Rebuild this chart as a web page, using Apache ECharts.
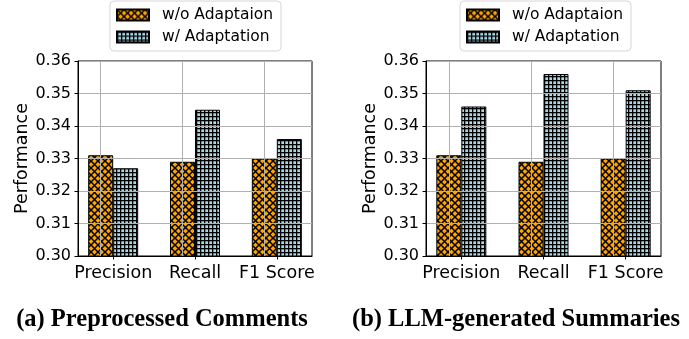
<!DOCTYPE html>
<html>
<head>
<meta charset="utf-8">
<script src="https://cdn.jsdelivr.net/npm/echarts@6/dist/echarts.min.js"></script>
<style>
html,body{margin:0;padding:0;background:#fff;}
#chart{width:689px;height:339px;}
</style>
</head>
<body>
<div id="chart"></div>
<script>
const categories = ['Precision', 'Recall', 'F1 Score'];
const categoryPositions = [0, 1, 2];
const seriesNames = ['w/o Adaptaion', 'w/ Adaptation'];
const leftWithout = [0.331, 0.329, 0.330];
const leftWith = [0.327, 0.345, 0.336];
const rightWithout = [0.331, 0.329, 0.330];
const rightWith = [0.346, 0.356, 0.351];
const captions = ['(a) Preprocessed Comments', '(b) LLM-generated Summaries'];

function makeCrossHatch() {
  const c = document.createElement('canvas');
  c.width = 7; c.height = 7;
  const g = c.getContext('2d');
  g.fillStyle = '#ffa500';
  g.fillRect(0, 0, 7, 7);
  g.strokeStyle = '#000';
  g.lineWidth = 1.5;
  g.beginPath();
  g.moveTo(-1, -1); g.lineTo(8, 8);
  g.moveTo(-1, 8); g.lineTo(8, -1);
  g.stroke();
  return c;
}
function makeGridHatch() {
  const c = document.createElement('canvas');
  c.width = 4; c.height = 4;
  const g = c.getContext('2d');
  g.fillStyle = '#add8e6';
  g.fillRect(0, 0, 4, 4);
  g.fillStyle = 'rgba(0,0,0,0.3)';
  g.fillRect(0, 1, 4, 1);
  g.fillRect(1, 0, 1, 4);
  g.fillStyle = '#000';
  g.fillRect(0, 0, 4, 1);
  g.fillRect(0, 0, 1, 4);
  return c;
}
const orangeFill = { image: makeCrossHatch(), repeat: 'repeat' };
const blueFill = { image: makeGridHatch(), repeat: 'repeat' };

const font = 'DejaVu Sans';
const grids = [
  { left: 78, width: 234, top: 61, height: 195 },
  { left: 426, width: 235, top: 61, height: 195 }
];

function xAxisFor(idx) {
  return {
    type: 'value', gridIndex: idx, min: -0.43, max: 2.43, z: 5,
    axisLine: { show: true, onZero: false, lineStyle: { color: '#000', width: 1 } },
    axisTick: { show: true, customValues: categoryPositions, length: 3.5, lineStyle: { color: '#000', width: 1 } },
    axisLabel: { customValues: categoryPositions, formatter: v => categories[Math.round(v)], color: '#000', fontFamily: font, fontSize: 17.5, margin: 8 },
    splitLine: { show: false }
  };
}
function yAxisFor(idx) {
  return {
    type: 'value', gridIndex: idx, min: 0.30, max: 0.36, interval: 0.01, z: 5,
    name: 'Performance', nameLocation: 'middle', nameGap: 47,
    nameTextStyle: { fontFamily: font, fontSize: 17.5, color: '#000' },
    axisLine: { show: true, onZero: false, lineStyle: { color: '#000', width: 1 } },
    axisTick: { show: true, length: 3.5, lineStyle: { color: '#000', width: 1 } },
    axisLabel: { formatter: v => v.toFixed(2), color: '#000', fontFamily: font, fontSize: 16, margin: 7 },
    splitLine: { show: true, lineStyle: { color: '#b0b0b0', width: 1 } }
  };
}
function barSeries(name, values, fill, idx, withGrid) {
  const s = {
    type: 'bar', name: name, xAxisIndex: idx, yAxisIndex: idx,
    data: values.map((v, i) => [categoryPositions[i], v]),
    barWidth: 25, barGap: '0%',
    itemStyle: { color: fill, borderColor: '#000', borderWidth: 1 }
  };
  if (withGrid) {
    s.markLine = {
      silent: true, symbol: 'none', animation: false,
      label: { show: false },
      lineStyle: { color: '#b0b0b0', width: 1, type: 'solid' },
      emphasis: { disabled: true },
      data: categoryPositions.map(p => ({ xAxis: p }))
    };
  }
  return s;
}
function legendFor(left) {
  return {
    orient: 'vertical', left: left, top: 1, icon: 'rect',
    itemWidth: 32, itemHeight: 11, itemGap: 6,
    padding: [6, 8, 6, 6],
    backgroundColor: '#fff', borderColor: '#d6d6d6', borderWidth: 1, borderRadius: 4,
    textStyle: { fontFamily: font, fontSize: 15.5, color: '#000', padding: [0, 0, 0, 8] },
    data: seriesNames
  };
}

const chart = echarts.init(document.getElementById('chart'), null, { renderer: 'canvas' });
chart.setOption({
  animation: false,
  backgroundColor: '#fff',
  grid: grids.map(g => Object.assign({ show: true, borderColor: '#000', borderWidth: 1, backgroundColor: 'transparent' }, g)),
  xAxis: [xAxisFor(0), xAxisFor(1)],
  yAxis: [yAxisFor(0), yAxisFor(1)],
  legend: [legendFor(110), legendFor(460)],
  series: [
    barSeries(seriesNames[0], leftWithout, orangeFill, 0, true),
    barSeries(seriesNames[1], leftWith, blueFill, 0, false),
    barSeries(seriesNames[0], rightWithout, orangeFill, 1, true),
    barSeries(seriesNames[1], rightWith, blueFill, 1, false)
  ],
  title: [
    { text: captions[0], left: 162, top: 307, textAlign: 'center', padding: 0,
      textStyle: { fontFamily: 'Liberation Serif', fontWeight: 'bold', fontSize: 24.5, color: '#000' } },
    { text: captions[1], left: 516, top: 307, textAlign: 'center', padding: 0,
      textStyle: { fontFamily: 'Liberation Serif', fontWeight: 'bold', fontSize: 24.5, color: '#000' } }
  ]
});
</script>
</body>
</html>
